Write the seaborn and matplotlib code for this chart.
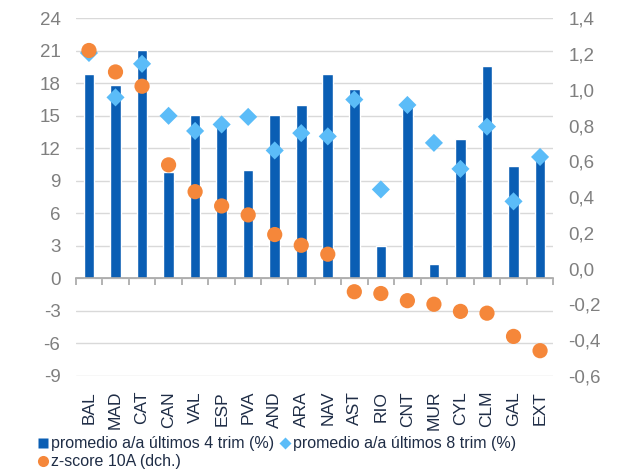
import matplotlib
matplotlib.use("Agg")
import matplotlib.pyplot as plt
import seaborn as sns
import pandas as pd
import numpy as np
from matplotlib.lines import Line2D
from matplotlib.ticker import FuncFormatter, FixedLocator

# Regional data
regions = ["BAL", "MAD", "CAT", "CAN", "VAL", "ESP", "PVA", "AND", "ARA",
           "NAV", "AST", "RIO", "CNT", "MUR", "CYL", "CLM", "GAL", "EXT"]
avg_4q = [18.9, 17.8, 21.1, 9.8, 15.1, 14.1, 10.0, 15.1, 16.0,
          18.9, 17.5, 3.0, 15.9, 1.3, 12.9, 19.6, 10.4, 11.0]
avg_8q = [20.8, 16.7, 19.8, 15.0, 13.6, 14.2, 14.9, 11.8, 13.4,
          13.1, 16.5, 8.2, 16.0, 12.5, 10.1, 14.0, 7.1, 11.2]
zscore_10y = [1.22, 1.10, 1.02, 0.58, 0.43, 0.35, 0.30, 0.19, 0.13,
              0.08, -0.13, -0.14, -0.18, -0.20, -0.24, -0.25, -0.38, -0.46]

left_ticks = [-9, -6, -3, 0, 3, 6, 9, 12, 15, 18, 21, 24]
right_ticks = [-0.6, -0.4, -0.2, 0.0, 0.2, 0.4, 0.6, 0.8, 1.0, 1.2, 1.4]

legend_labels = ["promedio a/a últimos 4 trim (%)",
                 "promedio a/a últimos 8 trim (%)",
                 "z-score 10A (dch.)"]

BAR_COLOR = "#0A5EB4"
DIAMOND_COLOR = "#5BBCF8"
DOT_COLOR = "#F5873A"
TEXT_COLOR = "#1F2D46"
TICK_COLOR = "#7F7F7F"
GRID_COLOR = "#D9D9D9"
AXIS_COLOR = "#A6A6A6"

df = pd.DataFrame({"region": regions, "avg_4q": avg_4q,
                   "avg_8q": avg_8q, "zscore": zscore_10y})

sns.set_theme(style="white")
plt.rcParams["font.family"] = ["Liberation Sans", "DejaVu Sans"]
plt.rcParams["axes.unicode_minus"] = False

fig = plt.figure(figsize=(6.17, 4.70), dpi=100)
ax = fig.add_axes([0.1227, 0.2006, 0.7741, 0.7604])

sns.barplot(data=df, x="region", y="avg_4q", color=BAR_COLOR, width=0.4,
            saturation=1, ax=ax, zorder=2)
sns.scatterplot(data=df, x="region", y="avg_8q", marker="D", s=85,
                color=DIAMOND_COLOR, edgecolor="none", ax=ax, zorder=3)

ax2 = ax.twinx()
sns.scatterplot(data=df, x="region", y="zscore", marker="o", s=120,
                color=DOT_COLOR, edgecolor="none", ax=ax2, zorder=4)

n = len(regions)
ax.set_xlim(-0.5, n - 0.5)
ax.set_ylim(left_ticks[0], left_ticks[-1])
ax2.set_ylim(right_ticks[0], right_ticks[-1])

# Left axis: gridlines and labels
ax.set_yticks(left_ticks)
ax.yaxis.grid(True, color=GRID_COLOR, linewidth=1.0, zorder=0)
ax.set_axisbelow(True)
ax.tick_params(axis="y", length=0, pad=11, labelsize=13.5, labelcolor=TICK_COLOR)
ax.set_ylabel("")

# Right axis labels with decimal comma
ax2.set_yticks(right_ticks)
ax2.yaxis.set_major_formatter(FuncFormatter(lambda v, p: f"{v:.1f}".replace(".", ",")))
ax2.tick_params(axis="y", length=0, pad=11, labelsize=13.5, labelcolor=TICK_COLOR)
ax2.set_ylabel("")
ax2.grid(False)

for a in (ax, ax2):
    for side in ("left", "right", "top"):
        a.spines[side].set_visible(False)
ax2.spines["bottom"].set_visible(False)

# Category axis drawn along zero, with separators between regions
ax.spines["bottom"].set_position(("data", 0))
ax.spines["bottom"].set_color(AXIS_COLOR)
ax.spines["bottom"].set_linewidth(1.2)
ax.spines["bottom"].set_zorder(2.5)
ax.xaxis.set_minor_locator(FixedLocator(np.arange(-0.5, n, 1.0)))
ax.tick_params(axis="x", which="major", length=0, labelbottom=False)
ax.tick_params(axis="x", which="minor", bottom=True, length=5, width=1.2,
               color=AXIS_COLOR, direction="out")
ax.set_xlabel("")

# Region names below the plot area
sec = ax.secondary_xaxis("bottom")
sec.set_xticks(range(n), labels=regions, rotation=90)
sec.tick_params(length=0, pad=11, labelsize=12.5, labelcolor=TEXT_COLOR)
sec.spines["bottom"].set_visible(False)

handles = [
    Line2D([], [], linestyle="none", marker="s", markersize=7.5,
           markerfacecolor=BAR_COLOR, markeredgecolor="none"),
    Line2D([], [], linestyle="none", marker="o", markersize=8,
           markerfacecolor=DOT_COLOR, markeredgecolor="none"),
    Line2D([], [], linestyle="none", marker="D", markersize=6,
           markerfacecolor=DIAMOND_COLOR, markeredgecolor="none"),
]
labels = [legend_labels[0], legend_labels[2], legend_labels[1]]
fig.legend(handles, labels, loc="upper left", bbox_to_anchor=(0.062, 0.072),
           ncol=2, frameon=False, fontsize=11.5, labelcolor=TEXT_COLOR,
           handlelength=0.6, handletextpad=0.2, columnspacing=0.35,
           labelspacing=0.2, borderaxespad=0, borderpad=0)

fig.savefig("out.png", dpi=100)
